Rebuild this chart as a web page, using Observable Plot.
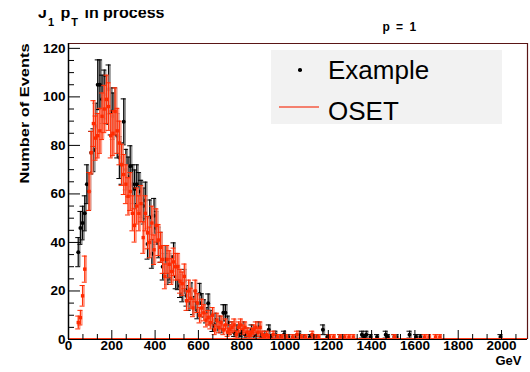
<!DOCTYPE html>
<html><head><meta charset="utf-8">
<script src="https://cdn.jsdelivr.net/npm/d3@7"></script>
<script src="https://cdn.jsdelivr.net/npm/@observablehq/plot@0.6"></script>
<style>
body{margin:0;background:#fff;}
#wrap{position:relative;width:530px;height:372px;overflow:hidden;font-family:"Liberation Sans",Arial,sans-serif;background:#fff;}
#wrap svg{position:absolute;left:0;top:0;}
#title{position:absolute;left:38px;top:10px;width:220px;height:21px;overflow:hidden;}
#title .in{position:absolute;left:0;top:-5.5px;font-weight:bold;font-size:16px;line-height:16px;white-space:nowrap;color:#000;}
#title .sub{font-size:11px;position:relative;top:8px;margin-left:1px;margin-right:2px;}
#ptitle{position:absolute;left:350px;top:21px;width:100px;text-align:center;font-weight:bold;font-size:12px;line-height:12px;letter-spacing:1.5px;}
#legend{position:absolute;left:271px;top:50px;width:231px;height:74px;background:#f2f2f2;}
#legend .t{position:absolute;left:57px;font-size:26px;line-height:26px;white-space:nowrap;color:#000;}
#legend .dot{position:absolute;left:27px;top:18px;width:3.5px;height:3.5px;border-radius:50%;background:#000;}
#legend .line{position:absolute;left:8px;top:56px;width:40px;height:2px;background:#f4806e;}
</style></head><body>
<div id="wrap">
  <div id="title"><div class="in">J<span class="sub">1</span> p<span class="sub">T</span> in process</div></div>
  <div id="ptitle">p = 1</div>
  <div id="legend">
    <div class="dot"></div><div class="t" style="top:6.5px">Example</div>
    <div class="line"></div><div class="t" style="top:48px">OSET</div>
  </div>
</div>
<script>
// ---- data (bin centre in GeV, number of events) ----
const exampleX = [45,55,65,75,85,95,105,115,125,135,145,155,165,175,185,195,205,215,225,235,245,255,265,275,285,295,305,315,325,335,345,355,365,375,385,395,405,415,425,435,445,455,465,475,485,495,505,515,525,535,545,555,565,575,585,595,605,615,625,635,645,655,665,675,685,695,705,715,725,735,745,755,765,775,785,795,805,815,825,835,845,855,865,875,885,895,905,925,935,955,975,995,1015,1045,1065,1085,1115,1145,1175,1195,1255,1355,1365,1375,1395,1425,1465,1475,1505,1515,1575,1605,1625,1995];
const exampleY = [36,46,48,52,64,61,77,78,88,105,105,99,101,98.6,103,94,92,94,84,75,72.5,89.7,70,67,71.4,64,62,64,61,58,55,57.3,39.4,50.4,35.3,51,46,40,38,30,33,28,30,29,34,26,25.6,22,20,24,18,16,19,14,16,12,18.8,15,12.8,10,14.9,9,5.7,8,6,7,5,11,11,7,4,5,3,4,2,3,5,2,3,2,4,2,3,5,2,1,2,4,1,2,1,2,1,1,2,1,1,1,4,1,1,2,1,2,1,1,2,1,1,1,2,1,1,1];
const osetX = [45,55,65,75,95,105,115,125,135,145,155,165,175,185,195,205,215,225,235,245,255,265,275,285,295,305,315,325,335,345,355,365,375,385,395,405,415,425,435,445,455,465,475,485,495,505,515,525,535,545,555,565,575,585,595,605,615,625,635,645,655,665,675,685,695,705,715,725,735,745,755,765,775,785,795,805,815,825,835,845,855,865,875,885,895,905,915,925,945,965,985,1005,1035,1055,1075,1095,1125,1135,1155,1205,1225,1255,1275,1295,1315,1505,1645,1665,1695,1715];
const osetY = [7,9,18,29,61,77,89,83,84,86,92,95,99,96,84,85,94,86,81,72,68,64,59,61,52,47,55,52,56,42,52,44,40,48,37,47,41,38,33,26,33,31,28,32,30,30,24,23,26,16,20,17,13,20,15,10,13,11,8,9,7,10,4,8,5,7,4,6,3,4,5,6,2,5,6,4,5,3,2,3,4,5,3,5,2,1,2,1,2,1,1,1,1,2,1,1,2,1,1,1,1,1,1,1,1,1,1,1,1,1];

// ---- axes ----
const xDomain = [0, 2120];
const yDomain = [0, 122];
const xTicks = [0,200,400,600,800,1000,1200,1400,1600,1800,2000];
const xTickLabels = ["0","200","400","600","800","1000","1200","1400","1600","1800","2000"];
const yTicks = [0,20,40,60,80,100,120];
const yTickLabels = ["0","20","40","60","80","100","120"];
const xMinor = d3.range(0, 2120, 200/3).filter(v => Math.abs(v/200 - Math.round(v/200)) > 1e-6);
const yMinor = d3.range(0, 122, 5).filter(v => v % 20 !== 0);

const W = 530, H = 372, mL = 68, mR = 3, mT = 43, mB = 33;
const innerW = W - mL - mR, innerH = H - mT - mB;

const withErr = (xs, ys) => xs.map((x, i) => ({x, n: ys[i], lo: ys[i] - Math.sqrt(ys[i]), hi: ys[i] + Math.sqrt(ys[i])}));
const ex = withErr(exampleX, exampleY);
const os = withErr(osetX, osetY);

const errMarks = (data, band, line, bandOpacity) => [
  Plot.ruleX(data, {x: "x", y1: "lo", y2: "hi", stroke: band, strokeWidth: 3, strokeOpacity: bandOpacity, dx: 0.8}),
  Plot.ruleX(data, {x: "x", y1: "lo", y2: "hi", stroke: line, strokeWidth: 1}),
  Plot.ruleY(data, {y: "hi", x1: "x", x2: "x", insetLeft: -2.5, insetRight: -2.5, stroke: line, strokeWidth: 1}),
  Plot.ruleY(data, {y: "lo", x1: "x", x2: "x", insetLeft: -2.5, insetRight: -2.5, stroke: line, strokeWidth: 1})
];

const chart = Plot.plot({
  width: W, height: H,
  marginLeft: mL, marginRight: mR, marginTop: mT, marginBottom: mB,
  x: {domain: xDomain, axis: null},
  y: {domain: yDomain, axis: null},
  style: {fontFamily: "'Liberation Sans', Arial, sans-serif", background: "white", overflow: "visible"},
  marks: [
    // data: Example
    ...errMarks(ex, "#8c8c8c", "#000000", 0.9),
    Plot.dot(ex, {x: "x", y: "n", r: 2, fill: "#000", stroke: "none"}),
    // data: OSET
    ...errMarks(os, "#ff8f7a", "#ff2a00", 0.85),
    Plot.dot(os, {x: "x", y: "n", r: 1.9, symbol: "square", fill: "#ff2a00", stroke: "none"}),
    // frame
    Plot.ruleY([yDomain[1]], {stroke: "#5a1616", strokeWidth: 1.2}),
    Plot.ruleX([xDomain[1]], {stroke: "#5a1616", strokeWidth: 1.2}),
    Plot.ruleY([0], {stroke: "#ff3a1a", strokeWidth: 1, dy: -1}),
    Plot.ruleY([0], {stroke: "#000", strokeWidth: 1.2}),
    Plot.ruleX([0], {stroke: "#000", strokeWidth: 1.5}),
    // ticks
    Plot.tickX(xTicks, {x: d => d, insetTop: innerH - 9, stroke: "#000"}),
    Plot.tickX(xMinor, {x: d => d, insetTop: innerH - 5, stroke: "#000"}),
    Plot.tickY(yTicks, {y: d => d, insetRight: innerW - 12, stroke: "#000"}),
    Plot.tickY(yMinor, {y: d => d, insetRight: innerW - 6, stroke: "#000"}),
    // tick labels
    Plot.text(xTicks, {x: d => d, frameAnchor: "bottom", dy: 10, text: (d, i) => xTickLabels[i], fontWeight: "bold", fontSize: 13.5, fill: "#000"}),
    Plot.text(yTicks, {y: d => d, frameAnchor: "left", dx: -3, textAnchor: "end", text: (d, i) => yTickLabels[i], fontWeight: "bold", fontSize: 13.5, fill: "#000"}),
    // axis titles
    Plot.text(["GeV"], {frameAnchor: "bottom-right", dx: -6, dy: 25, textAnchor: "end", fontWeight: "bold", fontSize: 13, fill: "#000"}),
    Plot.text(["Number of Events"], {frameAnchor: "top-left", dx: -49, dy: 0, rotate: -90, textAnchor: "end", fontWeight: "bold", fontSize: 13.5, fill: "#000"})
  ]
});
// ROOT renders the axis title a little wider than Liberation Sans: stretch it to the reference length
d3.select(chart).selectAll("text").filter(function() { return this.textContent === "Number of Events"; })
  .attr("textLength", 140).attr("lengthAdjust", "spacingAndGlyphs");
document.getElementById("wrap").prepend(chart);
</script>
</body></html>
